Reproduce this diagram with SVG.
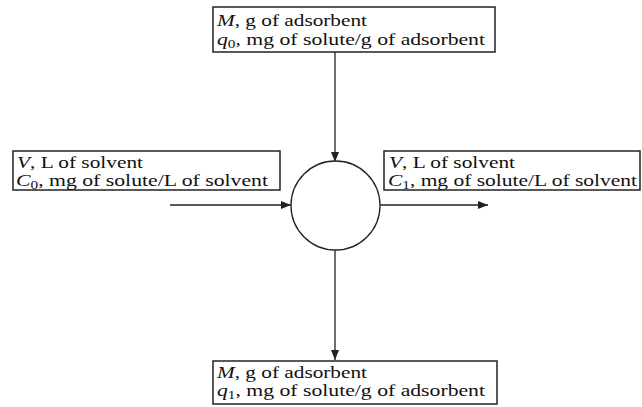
<svg xmlns="http://www.w3.org/2000/svg" width="642" height="407" viewBox="0 0 642 407">
<style>
.box{fill:#fff;stroke:#222;stroke-width:1.5}
.t{font-family:"Liberation Serif","Times New Roman",serif;font-size:17px;fill:#111}
.i{font-style:italic}
.s{font-size:12px}
.c{stroke:#222;stroke-width:1.3;fill:none}
</style>
<defs>
<marker id="ah" viewBox="0 0 10 10" refX="10" refY="5" markerWidth="10" markerHeight="10" markerUnits="userSpaceOnUse" orient="auto">
<path d="M0,1 L10,5 L0,9 Z" fill="#222"/>
</marker>
</defs>
<g id="connectors">
<line class="c" x1="335" y1="52" x2="335" y2="162" marker-end="url(#ah)"/>
<line class="c" x1="170" y1="205" x2="291" y2="205" marker-end="url(#ah)"/>
<line class="c" x1="380" y1="205" x2="488" y2="205" marker-end="url(#ah)"/>
<line class="c" x1="335" y1="250" x2="335" y2="360" marker-end="url(#ah)"/>
</g>
<g id="mixer">
<circle cx="335.5" cy="205.5" r="44.5" fill="#fff" stroke="#222" stroke-width="1.3"/>
</g>
<g id="top-input">
<rect class="box" x="213" y="7" width="282" height="45"/>
<text class="t" x="217" y="26" textLength="150" lengthAdjust="spacingAndGlyphs"><tspan class="i">M</tspan>, g of adsorbent</text>
<text class="t" x="217" y="45" textLength="268" lengthAdjust="spacingAndGlyphs"><tspan class="i">q</tspan><tspan class="s" dy="3">0</tspan><tspan dy="-3">, mg of solute/g of adsorbent</tspan></text>
</g>
<g id="left-input">
<rect class="box" x="13" y="151" width="267" height="39"/>
<text class="t" x="17" y="168" textLength="126" lengthAdjust="spacingAndGlyphs"><tspan class="i">V</tspan>, L of solvent</text>
<text class="t" x="16" y="186" textLength="252" lengthAdjust="spacingAndGlyphs"><tspan class="i">C</tspan><tspan class="s" dy="3">0</tspan><tspan dy="-3">, mg of solute/L of solvent</tspan></text>
</g>
<g id="right-output">
<rect class="box" x="384" y="151" width="256" height="39"/>
<text class="t" x="389" y="168" textLength="126" lengthAdjust="spacingAndGlyphs"><tspan class="i">V</tspan>, L of solvent</text>
<text class="t" x="388" y="186" textLength="249" lengthAdjust="spacingAndGlyphs"><tspan class="i">C</tspan><tspan class="s" dy="3">1</tspan><tspan dy="-3">, mg of solute/L of solvent</tspan></text>
</g>
<g id="bottom-output">
<rect class="box" x="213" y="361" width="284" height="43"/>
<text class="t" x="217" y="378" textLength="150" lengthAdjust="spacingAndGlyphs"><tspan class="i">M</tspan>, g of adsorbent</text>
<text class="t" x="217" y="396" textLength="268" lengthAdjust="spacingAndGlyphs"><tspan class="i">q</tspan><tspan class="s" dy="3">1</tspan><tspan dy="-3">, mg of solute/g of adsorbent</tspan></text>
</g>
</svg>
